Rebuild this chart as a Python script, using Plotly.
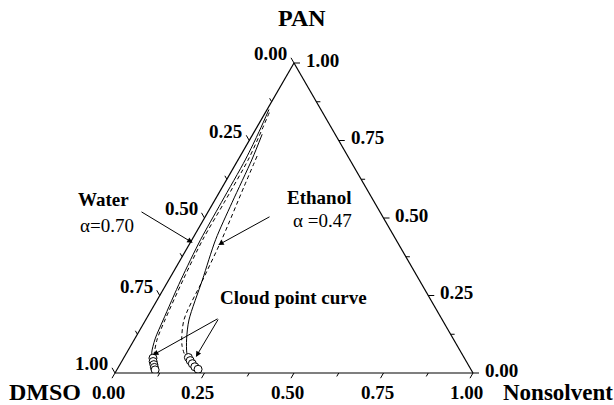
import plotly.graph_objects as go

# Phase diagram of PAN / DMSO / nonsolvent (mass fractions)
# Water system: binodal (solid) and spinodal (dashed)
water_bin_pan = [0.85, 0.78, 0.69, 0.55, 0.43, 0.30, 0.171, 0.11, 0.065, 0.05]
water_bin_ns = [0.005, 0.013, 0.020, 0.022, 0.024, 0.034, 0.049, 0.057, 0.070, 0.080]
water_spin_pan = [0.84, 0.76, 0.69, 0.55, 0.43, 0.30, 0.171, 0.11, 0.058, 0.048]
water_spin_ns = [0.011, 0.021, 0.028, 0.030, 0.030, 0.040, 0.054, 0.063, 0.080, 0.086]

# Ethanol system: binodal (solid) and spinodal (dashed)
eth_bin_pan = [0.77, 0.69, 0.55, 0.43, 0.30, 0.171, 0.11, 0.065, 0.05]
eth_bin_ns = [0.026, 0.038, 0.052, 0.066, 0.094, 0.121, 0.145, 0.168, 0.179]
eth_spin_pan = [0.70, 0.60, 0.43, 0.30, 0.171, 0.09, 0.042]
eth_spin_ns = [0.047, 0.060, 0.083, 0.095, 0.107, 0.142, 0.179]

# Measured cloud points
water_cp_pan = [0.048, 0.037, 0.027, 0.018, 0.010]
water_cp_ns = [0.082, 0.088, 0.095, 0.101, 0.107]
eth_cp_pan = [0.050, 0.040, 0.030, 0.020, 0.012]
eth_cp_ns = [0.180, 0.190, 0.201, 0.213, 0.226]

major_ticks = [0.0, 0.25, 0.50, 0.75, 1.0]
minor_ticks = [0.125, 0.375, 0.625, 0.875]
tick_labels = ["0.00", "0.25", "0.50", "0.75", "1.00"]

W, H = 614, 405
TRI_X = [115 / W, 473 / W]
TRI_Y = [1 - 373 / H, 1 - 63 / H]

SERIF = "Liberation Serif"
TICK_SIZE = 19
TITLE_SIZE = 23
NOTE_SIZE = 19


def dmso(pan, ns):
    return [1 - p - n for p, n in zip(pan, ns)]


def to_pixel(pan, ns):
    """Position of a composition inside the ternary domain, in page pixels."""
    x0, x1 = TRI_X[0] * W, TRI_X[1] * W
    yb, yt = (1 - TRI_Y[0]) * H, (1 - TRI_Y[1]) * H
    return x0 + (x1 - x0) * (ns + pan / 2), yb - (yb - yt) * pan


def px(x, y):
    return x / W, 1 - y / H


fig = go.Figure()


def curve(pan, ns, dash):
    fig.add_trace(go.Scatterternary(
        a=pan, b=dmso(pan, ns), c=ns, mode="lines",
        line=dict(color="black", width=1, dash=dash, shape="spline",
                  smoothing=0.8),
        hoverinfo="skip", showlegend=False))


curve(water_bin_pan, water_bin_ns, "solid")
curve(water_spin_pan, water_spin_ns, "4px,3px")
curve(eth_bin_pan, eth_bin_ns, "solid")
curve(eth_spin_pan, eth_spin_ns, "4px,3px")

for pan, ns in [(water_cp_pan, water_cp_ns), (eth_cp_pan, eth_cp_ns)]:
    fig.add_trace(go.Scatterternary(
        a=pan, b=dmso(pan, ns), c=ns, mode="markers",
        marker=dict(symbol="circle", size=8, color="white",
                    line=dict(color="black", width=1)),
        hoverinfo="skip", showlegend=False))

axis_common = dict(
    showgrid=False, showline=True, linecolor="black", linewidth=1.2,
    ticks="", showticklabels=False, title=dict(text=""), min=0)

fig.update_layout(
    width=W, height=H,
    margin=dict(l=0, r=0, t=0, b=0),
    paper_bgcolor="white",
    ternary=dict(
        domain=dict(x=TRI_X, y=TRI_Y), sum=1, bgcolor="white",
        aaxis=axis_common, baxis=axis_common, caxis=axis_common,
    ),
)

# Edge ticks: each edge carries the component that is zero at its far
# vertex; ticks point outward along the lines of constant value.
edges = {
    "left": (lambda t: to_pixel(1 - t, 0.0), (-0.5, -0.866)),
    "bottom": (lambda t: to_pixel(0.0, t), (-0.5, 0.866)),
    "right": (lambda t: to_pixel(t, 1 - t), (1.0, 0.0)),
}

shapes = []
ann = []
for name, (point, (dx, dy)) in edges.items():
    for vals, length in [(major_ticks, 6), (minor_ticks, 4)]:
        for t in vals:
            x, y = point(t)
            x0, y0 = px(x, y)
            x1, y1 = px(x + dx * length, y + dy * length)
            shapes.append(dict(type="line", xref="paper", yref="paper",
                               x0=x0, y0=y0, x1=x1, y1=y1,
                               line=dict(color="black", width=1)))
    for t, text in zip(major_ticks, tick_labels):
        x, y = point(t)
        if name == "left":
            lx, ly, anchor = x - 5, y - 9.5, "right"
        elif name == "bottom":
            lx, ly, anchor = x - 6.5, y + 19, "center"
        else:
            lx, ly, anchor = x + 10, y - 3, "left"
        ax_, ay_ = px(lx, ly)
        ann.append(dict(
            text=text, x=ax_, y=ay_, xref="paper", yref="paper",
            showarrow=False, xanchor=anchor, yanchor="middle",
            font=dict(family=SERIF, size=TICK_SIZE, color="black",
                      weight="bold")))


def label(text, x_px, y_px, size, bold=True, anchor="center", vanchor="middle"):
    x, y = px(x_px, y_px)
    ann.append(dict(
        text=text, x=x, y=y, xref="paper", yref="paper",
        showarrow=False, xanchor=anchor, yanchor=vanchor,
        font=dict(family=SERIF, size=size, color="black",
                  weight="bold" if bold else "normal")))


def arrow(pan, ns, tail_px):
    hx, hy = to_pixel(pan, ns)
    x, y = px(hx, hy)
    ann.append(dict(
        x=x, y=y, xref="paper", yref="paper",
        ax=tail_px[0] - hx, ay=tail_px[1] - hy, axref="pixel", ayref="pixel",
        text="", showarrow=True, arrowhead=2, arrowsize=1.1, arrowwidth=1,
        arrowcolor="black", standoff=0))


label("PAN", 302, 18, TITLE_SIZE + 1)
label("DMSO", 45, 407, TITLE_SIZE + 1, vanchor="bottom")
label("Nonsolvent", 558, 407, TITLE_SIZE, vanchor="bottom")
label("Water", 103, 199, NOTE_SIZE)
label("\u03b1=0.70", 107, 225, NOTE_SIZE, bold=False)
label("Ethanol", 319, 197, NOTE_SIZE)
label("\u03b1 =0.47", 322, 220, NOTE_SIZE, bold=False)
label("Cloud point curve", 293, 297, NOTE_SIZE)

arrow(0.42, 0.007, (140, 211))
arrow(0.413, 0.082, (271, 216))
arrow(0.058, 0.077, (219, 318))
arrow(0.052, 0.200, (219, 318))

fig.update_layout(shapes=shapes, annotations=ann)
fig.write_html("out.html")
